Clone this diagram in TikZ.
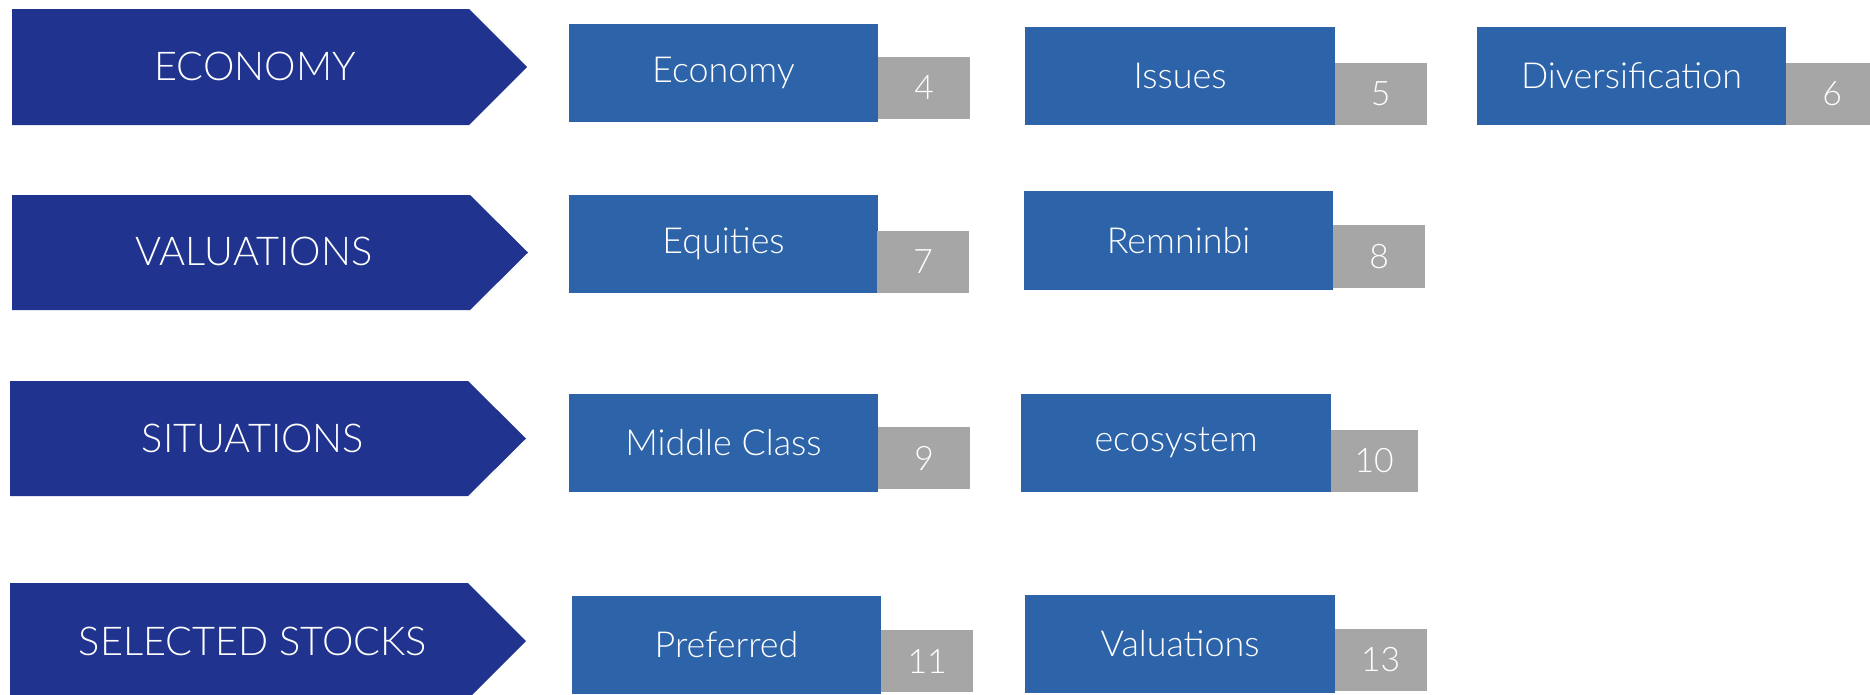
\documentclass[tikz,border=0pt]{standalone}
\usepackage{fontspec}
\setmainfont{Lato Light}
\usetikzlibrary{positioning}

\definecolor{chevblue}{RGB}{31,51,143}
\definecolor{topicblue}{RGB}{45,99,168}
\definecolor{pagegray}{RGB}{166,166,166}

\begin{document}
\begin{tikzpicture}[x=0.01cm, y=-0.01cm]

\tikzset{chevron/.style = {fill=chevblue}}
\tikzset{heading/.style = {text=white, inner sep=0pt, font=\fontsize{11.3}{13}\selectfont}}
\tikzset{topic/.style = {fill=topicblue, text=white, inner sep=0pt, outer sep=0pt, minimum width=3.09cm, minimum height=0.98cm, font=\fontsize{10.2}{12}\selectfont}}
\tikzset{pagenum/.style = {fill=pagegray, text=white, inner sep=0pt, outer sep=0pt, minimum width=0.92cm, minimum height=0.62cm, font=\fontsize{9.6}{11}\selectfont}}

\clip (0,0) rectangle (1870,694);

%chevrons
\fill[chevron] (12,9) -- (469,9) -- (527,67) -- (469,125) -- (12,125) -- cycle;
\fill[chevron] (12,195) -- (470,195) -- (528,252.5) -- (470,310) -- (12,310) -- cycle;
\fill[chevron] (10,381) -- (468,381) -- (526,438.5) -- (468,496) -- (10,496) -- cycle;
\fill[chevron] (10,583) -- (468,583) -- (526,641) -- (468,699) -- (10,699) -- cycle;
\node[heading] (economy) at (255,66) {ECONOMY};
\node[heading] (valuations) at (254,251) {VALUATIONS};
\node[heading] (situations) at (253,438) {SITUATIONS};
\node[heading] (stocks) at (253,641) {SELECTED STOCKS};

%topics
\node[topic] (econ) at (723.5,73) {Economy};
\node[topic] (issues) at (1180,76) {Issues};
\node[topic] (divers) at (1631.5,76) {Diversification};
\node[topic] (equities) at (723.5,244) {Equities};
\node[topic] (renminbi) at (1178.5,240.5) {Remninbi};
\node[topic] (middle) at (723.5,443) {Middle Class};
\node[topic] (ecosys) at (1176,443) {ecosystem};
\node[topic] (preferred) at (726.5,645) {Preferred};
\node[topic] (valu) at (1180,644) {Valuations};

%page numbers
\node[pagenum, above right=0.03cm and 0cm of econ.south east] (p4) {4};
\node[pagenum, above right=0cm and 0cm of issues.south east] (p5) {5};
\node[pagenum, above right=0cm and 0cm of divers.south east] (p6) {6};
\node[pagenum, above right=0cm and -0.01cm of equities.south east] (p7) {7};
\node[pagenum, above right=0.02cm and 0cm of renminbi.south east] (p8) {8};
\node[pagenum, above right=0.03cm and 0cm of middle.south east] (p9) {9};
\node[pagenum, minimum width=0.87cm, above right=0cm and 0cm of ecosys.south east] (p10) {10};
\node[pagenum, above right=0.02cm and 0cm of preferred.south east] (p11) {11};
\node[pagenum, above right=0.02cm and 0cm of valu.south east] (p13) {13};

\end{tikzpicture}
\end{document}
